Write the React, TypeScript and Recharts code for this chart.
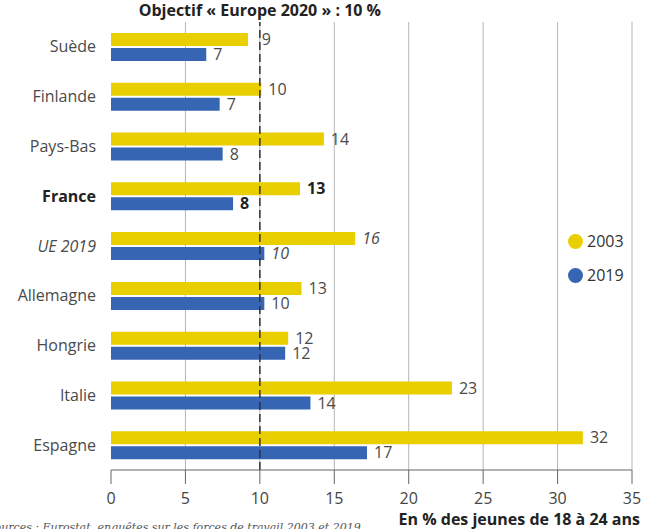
import React from "react";
import { BarChart, Bar, XAxis, YAxis, CartesianGrid, ReferenceLine, LabelList } from "recharts";

const categories = ["Suède", "Finlande", "Pays-Bas", "France", "UE 2019", "Allemagne", "Hongrie", "Italie", "Espagne"];
const values2003 = [9.2, 10.1, 14.3, 12.7, 16.4, 12.8, 11.9, 22.9, 31.7];
const values2019 = [6.4, 7.3, 7.5, 8.2, 10.3, 10.3, 11.7, 13.4, 17.2];
const labels2003 = [9, 10, 14, 13, 16, 13, 12, 23, 32];
const labels2019 = [7, 7, 8, 8, 10, 10, 12, 14, 17];
const xDomain = [0, 35];
const xTicks = [0, 5, 10, 15, 20, 25, 30, 35];
const gridTicks = [5, 10, 15, 20, 25, 30, 35];
const targetValue = 10;
const targetLabel = "Objectif « Europe 2020 » : 10 %";
const axisTitle = "En % des jeunes de 18 à 24 ans";
const sourceText = "Sources : Eurostat, enquêtes sur les forces de travail 2003 et 2019";
const seriesNames = ["2003", "2019"];

const YELLOW = "#E9CE00";
const BLUE = "#3565B3";
const FONT = "'Open Sans', sans-serif";

const data = categories.map((name, i) => ({
  name,
  v2003: values2003[i],
  v2019: values2019[i],
  l2003: labels2003[i],
  l2019: labels2019[i],
}));

const styleFor = (name: string) => {
  if (name === "France") return { fontWeight: 700, fontStyle: "normal", fill: "#222" };
  if (name === "UE 2019") return { fontWeight: 400, fontStyle: "italic", fill: "#4a4a4a" };
  return { fontWeight: 400, fontStyle: "normal", fill: "#4a4a4a" };
};

const CatTick = (props: any) => {
  const { x, y, payload } = props;
  const s = styleFor(payload.value);
  return (
    <text x={x - 15} y={y} dy="0.35em" textAnchor="end" fontSize={16} fontFamily={FONT}
      fill={s.fill} fontWeight={s.fontWeight} fontStyle={s.fontStyle}>
      {payload.value}
    </text>
  );
};

const makeLabel = (key: "l2003" | "l2019", vkey: "v2003" | "v2019") => (props: any) => {
  const { x, y, width, height, index } = props;
  const d = data[index];
  const s = styleFor(d.name);
  let lx = x + width + 7;
  const tx = x + (width * targetValue) / d[vkey];
  if (lx < tx + 2 && lx + 10 > tx) lx = tx + 2;
  return (
    <text x={lx} y={y + height / 2} dy="0.35em" textAnchor="start" fontSize={16}
      fontFamily={FONT} fill={s.fill} fontWeight={s.fontWeight} fontStyle={s.fontStyle}>
      {d[key]}
    </text>
  );
};

const gridGen = (args: any) => {
  const xa = args && args.xAxis;
  if (xa && typeof xa.scale === "function") {
    const r = gridTicks.map((t) => xa.scale(t));
    if (r.every((v) => typeof v === "number" && !isNaN(v))) return r;
  }
  const off = args && args.offset;
  if (off && typeof off.left === "number") {
    return gridTicks.map((t) => off.left + ((t - xDomain[0]) / (xDomain[1] - xDomain[0])) * off.width);
  }
  return [];
};

export default function App() {
  return (
    <div style={{ position: "absolute", left: 0, top: 0, width: 651, height: 529, background: "#fff", overflow: "hidden" }}>
      <BarChart
        width={651}
        height={529}
        data={data}
        layout="vertical"
        margin={{ top: 22, right: 19, bottom: 29, left: 0 }}
        barSize={13}
        barGap={2}
      >
        <CartesianGrid horizontal={false} vertical={true} stroke="#b5b5b5" verticalCoordinatesGenerator={gridGen} />
        <XAxis
          type="number"
          domain={xDomain}
          ticks={xTicks}
          interval={0}
          height={30}
          tickSize={14}
          tickMargin={9}
          stroke="#666"
          tick={{ fill: "#444", fontSize: 16, fontFamily: FONT }}
        />
        <YAxis
          type="category"
          dataKey="name"
          width={111}
          axisLine={false}
          tickLine={false}
          tickSize={0}
          tickMargin={0}
          interval={0}
          tick={<CatTick />}
        />
        <Bar dataKey="v2003" fill={YELLOW} isAnimationActive={false}>
          <LabelList dataKey="l2003" content={makeLabel("l2003", "v2003")} />
        </Bar>
        <Bar dataKey="v2019" fill={BLUE} isAnimationActive={false}>
          <LabelList dataKey="l2019" content={makeLabel("l2019", "v2019")} />
        </Bar>
        <ReferenceLine
          x={targetValue}
          stroke="#333"
          strokeWidth={1.5}
          strokeDasharray="8 4"
          label={{ value: targetLabel, position: "top", offset: 6, fill: "#222", fontSize: 16, fontWeight: 700, fontFamily: FONT }}
        />
      </BarChart>
      <div style={{ position: "absolute", right: 11, top: 509, fontFamily: FONT, fontWeight: 700, fontSize: 16, color: "#222", whiteSpace: "nowrap", lineHeight: "20px" }}>
        {axisTitle}
      </div>
      <div style={{ position: "absolute", left: -13, top: 521, fontFamily: "'DejaVu Serif', serif", fontStyle: "italic", fontSize: 11, color: "#555", whiteSpace: "nowrap", lineHeight: "14px" }}>
        {sourceText}
      </div>
      <div style={{ position: "absolute", left: 568, top: 231, fontFamily: FONT, fontSize: 16, color: "#333" }}>
        {seriesNames.map((n, i) => (
          <div key={n} style={{ display: "flex", alignItems: "center", height: 20, marginBottom: i === 0 ? 14 : 0 }}>
            <span style={{ display: "inline-block", width: 15, height: 15, borderRadius: "50%", background: i === 0 ? YELLOW : BLUE, marginRight: 4 }} />
            <span>{n}</span>
          </div>
        ))}
      </div>
    </div>
  );
}
